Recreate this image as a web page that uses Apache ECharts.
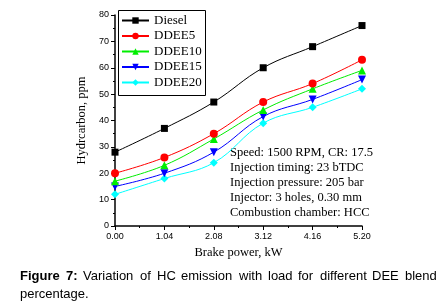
<!DOCTYPE html>
<html>
<head>
<meta charset="utf-8">
<script src="https://cdn.jsdelivr.net/npm/echarts@6/dist/echarts.min.js"></script>
<style>
html,body{margin:0;padding:0;background:#fff;}
#c{width:447px;height:302px;}
</style>
</head>
<body>
<div id="c"></div>
<script>
var xValues = [0.00, 1.04, 2.08, 3.12, 4.16, 5.20];
var seriesNames = ['Diesel', 'DDEE5', 'DDEE10', 'DDEE15', 'DDEE20'];
var diesel = [28, 37, 47, 60, 68, 76];
var ddee5 = [20, 26, 35, 47, 54, 63];
var ddee10 = [17, 23, 33, 44, 52, 59];
var ddee15 = [15, 20, 28, 41.5, 48, 55.5];
var ddee20 = [12, 18, 24, 39, 45, 52];
var annotationLines = [
  'Speed: 1500 RPM, CR: 17.5',
  'Injection timing: 23 bTDC',
  'Injection pressure: 205 bar',
  'Injector: 3 holes, 0.30 mm',
  'Combustion chamber: HCC'
];
var captionLine1 = ['Figure', '7:', 'Variation', 'of', 'HC', 'emission', 'with', 'load', 'for', 'different', 'DEE', 'blend'];
var captionLine2 = 'percentage.';

var colors = ['#000000', '#ff0000', '#00ee00', '#0000ff', '#00ffff'];
var symbols = ['rect', 'circle', 'triangle', 'triangle', 'diamond'];
var rotates = [0, 0, 0, 180, 0];
var allValues = [diesel, ddee5, ddee10, ddee15, ddee20];
var serif = '"Liberation Serif", "Times New Roman", serif';
var sans = '"Liberation Sans", Arial, sans-serif';

var series = seriesNames.map(function (name, i) {
  return {
    name: name,
    type: 'line',
    smooth: 0.4,
    data: xValues.map(function (x, j) { return [x, allValues[i][j]]; }),
    symbol: symbols[i],
    symbolSize: i === 0 ? 7 : 8,
    symbolRotate: rotates[i],
    lineStyle: { color: colors[i], width: 1 },
    itemStyle: { color: colors[i] },
    z: 10 - i
  };
});

var graphics = [];
// legend frame
graphics.push({
  type: 'rect', left: 116, top: 8, z: 100,
  shape: { width: 87, height: 85 },
  style: { fill: null, stroke: '#000', lineWidth: 1 }
});
annotationLines.forEach(function (t, i) {
  graphics.push({
    type: 'text', left: 230, top: 146 + i * 15,
    style: { text: t, font: '12.5px ' + serif, fill: '#000' }
  });
});
// justified caption line (text block from x=20 to x=437)
var ctx = document.createElement('canvas').getContext('2d');
function fontFor(i) { return (i < 2 ? 'bold ' : '') + '13px ' + sans; }
var widths = captionLine1.map(function (w, i) { ctx.font = fontFor(i); return ctx.measureText(w).width; });
var total = widths.reduce(function (a, b) { return a + b; }, 0);
var gap = (437 - 20 - total) / (captionLine1.length - 1);
var cx = 20;
captionLine1.forEach(function (w, i) {
  graphics.push({
    type: 'text', left: Math.round(cx), top: 270,
    style: { text: w, font: fontFor(i), fill: '#000' }
  });
  cx += widths[i] + gap;
});
graphics.push({
  type: 'text', left: 20, top: 288,
  style: { text: captionLine2, font: '13px ' + sans, fill: '#000' }
});

var chart = echarts.init(document.getElementById('c'), null, { renderer: 'canvas' });
chart.setOption({
  animation: false,
  backgroundColor: '#fff',
  grid: { left: 115, right: 85, top: 15, bottom: 76, containLabel: false },
  xAxis: {
    type: 'value', min: 0, max: 5.2, interval: 1.04,
    name: 'Brake power, kW', nameLocation: 'middle', nameGap: 20,
    nameTextStyle: { fontFamily: serif, fontSize: 12.5, color: '#000' },
    axisLine: { show: true, lineStyle: { color: '#000', width: 1.5 } },
    axisTick: { show: true, inside: false, length: 4, lineStyle: { color: '#000' } },
    minorTick: { show: true, splitNumber: 2, length: 2, lineStyle: { color: '#000' } },
    axisLabel: { fontFamily: sans, fontSize: 9, color: '#000', margin: 6,
      formatter: function (v) { return v.toFixed(2); } },
    splitLine: { show: false }
  },
  yAxis: {
    type: 'value', min: 0, max: 80, interval: 10,
    name: 'Hydrcarbon, ppm', nameLocation: 'middle', nameGap: 27,
    nameTextStyle: { fontFamily: serif, fontSize: 12.5, color: '#000' },
    axisLine: { show: true, lineStyle: { color: '#000', width: 1.5 } },
    axisTick: { show: true, inside: false, length: 4, lineStyle: { color: '#000' } },
    minorTick: { show: true, splitNumber: 2, length: 2, lineStyle: { color: '#000' } },
    axisLabel: { fontFamily: sans, fontSize: 9, color: '#000', margin: 6 },
    splitLine: { show: false }
  },
  legend: {
    orient: 'vertical', left: 116, top: 8,
    data: seriesNames,
    borderWidth: 0,
    padding: [6, 4, 5, 5],
    itemWidth: 27, itemHeight: 8, itemGap: 2.5,
    textStyle: { fontFamily: serif, fontSize: 13, lineHeight: 13, color: '#000' }
  },
  series: series,
  graphic: graphics
});
</script>
</body>
</html>
